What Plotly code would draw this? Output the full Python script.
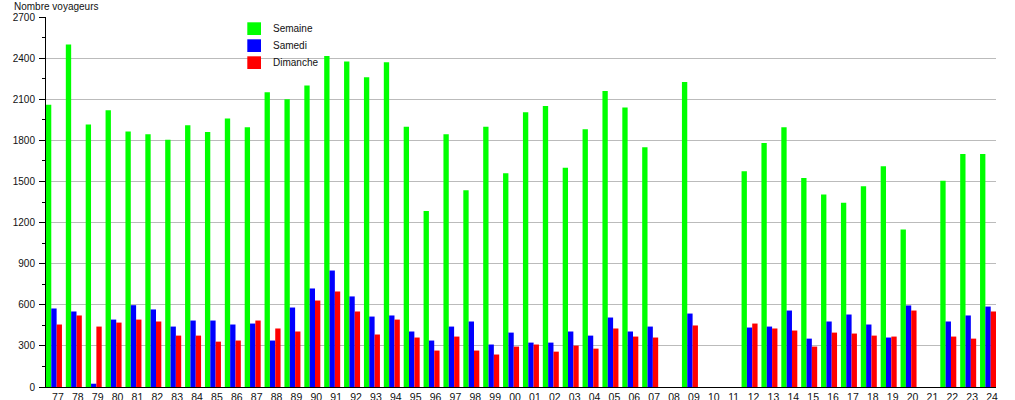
import plotly.graph_objects as go

years = ["77", "78", "79", "80", "81", "82", "83", "84", "85", "86", "87", "88",
         "89", "90", "91", "92", "93", "94", "95", "96", "97", "98", "99", "00",
         "01", "02", "03", "04", "05", "06", "07", "08", "09", "10", "11", "12",
         "13", "14", "15", "16", "17", "18", "19", "20", "21", "22", "23", "24"]

semaine = [2060, 2500, 1915, 2020, 1865, 1845, 1805, 1910, 1860, 1960, 1895, 2150,
           2100, 2200, 2415, 2375, 2260, 2370, 1900, 1285, 1845, 1435, 1900, 1560,
           2005, 2050, 1600, 1880, 2160, 2040, 1750, None, 2225, None, None, 1575,
           1780, 1895, 1525, 1405, 1345, 1465, 1610, 1150, None, 1505, 1700, 1700]

samedi = [573, 551, 24, 492, 597, 566, 441, 485, 485, 456, 463, 339,
          580, 719, 850, 661, 514, 522, 405, 339, 441, 478, 310, 397,
          324, 324, 405, 375, 507, 405, 441, None, 536, None, None, 434,
          441, 558, 353, 478, 529, 456, 361, 595, None, 478, 522, 587]

dimanche = [456, 522, 441, 470, 492, 478, 375, 375, 331, 339, 485, 427,
            405, 631, 697, 551, 383, 492, 361, 266, 368, 266, 237, 295,
            310, 258, 302, 280, 427, 368, 361, None, 449, None, None, 463,
            427, 412, 295, 397, 390, 375, 368, 558, None, 368, 353, 551]

series_names = ["Semaine", "Samedi", "Dimanche"]
series_colors = ["#00ff00", "#0000ff", "#ff0000"]

y_ticks = [0, 300, 600, 900, 1200, 1500, 1800, 2100, 2400, 2700]

FONT = "Liberation Sans, Arial, sans-serif"
TXT = "#111111"

W, H = 1015, 400
ML, MR, MT, MB = 46, 19, 17, 13
PW, PH = W - ML - MR, H - MT - MB


def px_x(x):
    return (x - ML) / PW


def px_y(y):
    return 1 - (y - MT) / PH


fig = go.Figure()
for name, vals, col in zip(series_names, [semaine, samedi, dimanche], series_colors):
    fig.add_trace(go.Bar(x=years, y=vals, name=name,
                         marker=dict(color=col, line=dict(width=0))))

# legend drawn inside the plot area
shapes, annots = [], []
for i, (name, col) in enumerate(zip(series_names, series_colors)):
    top = 22.3 + 17 * i
    shapes.append(dict(type="rect", xref="paper", yref="paper",
                       x0=px_x(247.3), x1=px_x(261), y0=px_y(top + 12.7), y1=px_y(top),
                       fillcolor=col, line=dict(width=0)))
    annots.append(dict(text=name, xref="paper", yref="paper",
                       x=px_x(270.5), y=px_y(top + 6.6), xanchor="left", yanchor="middle",
                       showarrow=False, font=dict(size=10, color=TXT)))

annots.append(dict(text="Nombre voyageurs", xref="paper", yref="paper",
                   x=px_x(11.5), y=px_y(6), xanchor="left", yanchor="middle",
                   showarrow=False, font=dict(size=10, color=TXT)))

fig.update_layout(
    width=W, height=H,
    margin=dict(l=ML, r=MR, t=MT, b=MB, autoexpand=False),
    barmode="group", bargap=0.195, bargroupgap=0,
    plot_bgcolor="white", paper_bgcolor="white",
    font=dict(family=FONT, size=10, color=TXT),
    showlegend=False,
    shapes=shapes,
    annotations=annots,
)

fig.update_xaxes(
    type="category", categoryorder="array", categoryarray=years,
    range=[-0.40, 47.40], showline=True, linecolor="black", linewidth=1,
    ticks="", showgrid=False, tickfont=dict(size=10.5), ticklabelshift=4,
    fixedrange=True,
)
fig.update_yaxes(
    range=[0, 2700], tickvals=y_ticks, ticks="outside", ticklen=6, tickcolor="black",
    showline=True, linecolor="black", linewidth=1,
    showgrid=True, gridcolor="#bbbbbb", gridwidth=1, zeroline=False,
    ticklabelstandoff=2,
    minor=dict(dtick=150, tick0=0, ticks="outside", ticklen=3, tickcolor="black", showgrid=False),
    fixedrange=True,
)

fig.write_html("out.html", config={"displayModeBar": False},
               post_script="document.body.style.margin='0';document.body.style.overflow='hidden';")
